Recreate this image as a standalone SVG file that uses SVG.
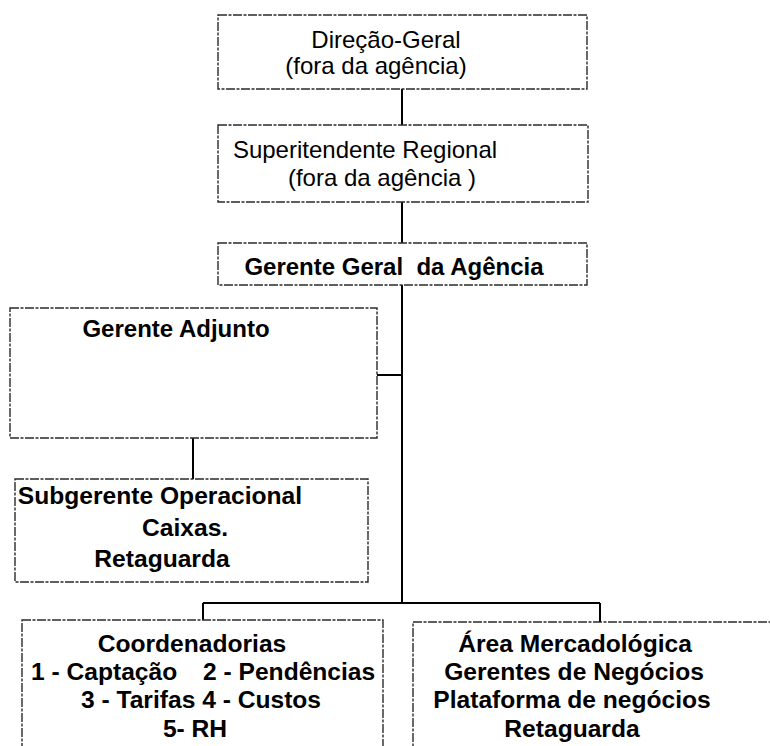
<svg xmlns="http://www.w3.org/2000/svg" width="770" height="746" viewBox="0 0 770 746">
  <style>
    .box { fill: #ffffff; stroke: #2a2a2a; stroke-width: 1.4; stroke-dasharray: 9 1.5 3 1.5; }
    .wire { fill: none; stroke: #000000; stroke-width: 2; }
    text { font-family: "Liberation Sans", Arial, sans-serif; fill: #000000; white-space: pre; }
    .reg { font-size: 24px; }
    .bold { font-size: 24px; font-weight: bold; }
    .bold-lg { font-size: 24.6px; font-weight: bold; }
    .mid { text-anchor: middle; }
  </style>
  <rect width="770" height="746" fill="#ffffff"/>

  <!-- connectors -->
  <g id="connectors">
    <path class="wire" d="M402 89 V125"/>
    <path class="wire" d="M402 202 V243"/>
    <path class="wire" d="M402 285 V603"/>
    <path class="wire" d="M377 375 H402"/>
    <path class="wire" d="M193 438 V479"/>
    <path class="wire" d="M203 603 H600"/>
    <path class="wire" d="M203 603 V620"/>
    <path class="wire" d="M600 603 V622"/>
  </g>

  <g id="direcao-geral">
    <rect class="box" x="218" y="15" width="369" height="74"/>
    <text class="reg mid" x="386" y="48">Direção-Geral</text>
    <text class="reg mid" x="376" y="74">(fora da agência)</text>
  </g>

  <g id="superintendente-regional">
    <rect class="box" x="218" y="125" width="370" height="77"/>
    <text class="reg mid" x="365" y="158">Superitendente Regional</text>
    <text class="reg mid" x="382" y="186">(fora da agência )</text>
  </g>

  <g id="gerente-geral">
    <rect class="box" x="218" y="243" width="369" height="42"/>
    <text class="bold mid" x="394" y="275">Gerente Geral  da Agência</text>
  </g>

  <g id="gerente-adjunto">
    <rect class="box" x="10" y="308" width="367" height="130"/>
    <text class="bold mid" x="176" y="337">Gerente Adjunto</text>
  </g>

  <g id="subgerente-operacional">
    <rect class="box" x="15" y="479" width="353" height="103"/>
    <text class="bold-lg mid" x="160" y="504">Subgerente Operacional</text>
    <text class="bold-lg" x="142" y="536">Caixas.</text>
    <text class="bold-lg mid" x="162" y="567">Retaguarda</text>
  </g>

  <g id="coordenadorias">
    <rect class="box" x="22" y="620" width="361" height="140"/>
    <text class="bold-lg mid" x="192" y="652">Coordenadorias</text>
    <text class="bold-lg" x="31" y="680">1 - Captação <tspan x="203">2 - Pendências</tspan></text>
    <text class="bold-lg mid" x="201" y="708">3 - Tarifas 4 - Custos</text>
    <text class="bold-lg mid" x="195" y="737">5- RH</text>
  </g>

  <g id="area-mercadologica">
    <rect class="box" x="413" y="622" width="370" height="140"/>
    <text class="bold-lg mid" x="575" y="652">Área Mercadológica</text>
    <text class="bold-lg mid" x="574" y="680">Gerentes de Negócios</text>
    <text class="bold-lg mid" x="572" y="708">Plataforma de negócios</text>
    <text class="bold-lg mid" x="572" y="737">Retaguarda</text>
  </g>
</svg>
